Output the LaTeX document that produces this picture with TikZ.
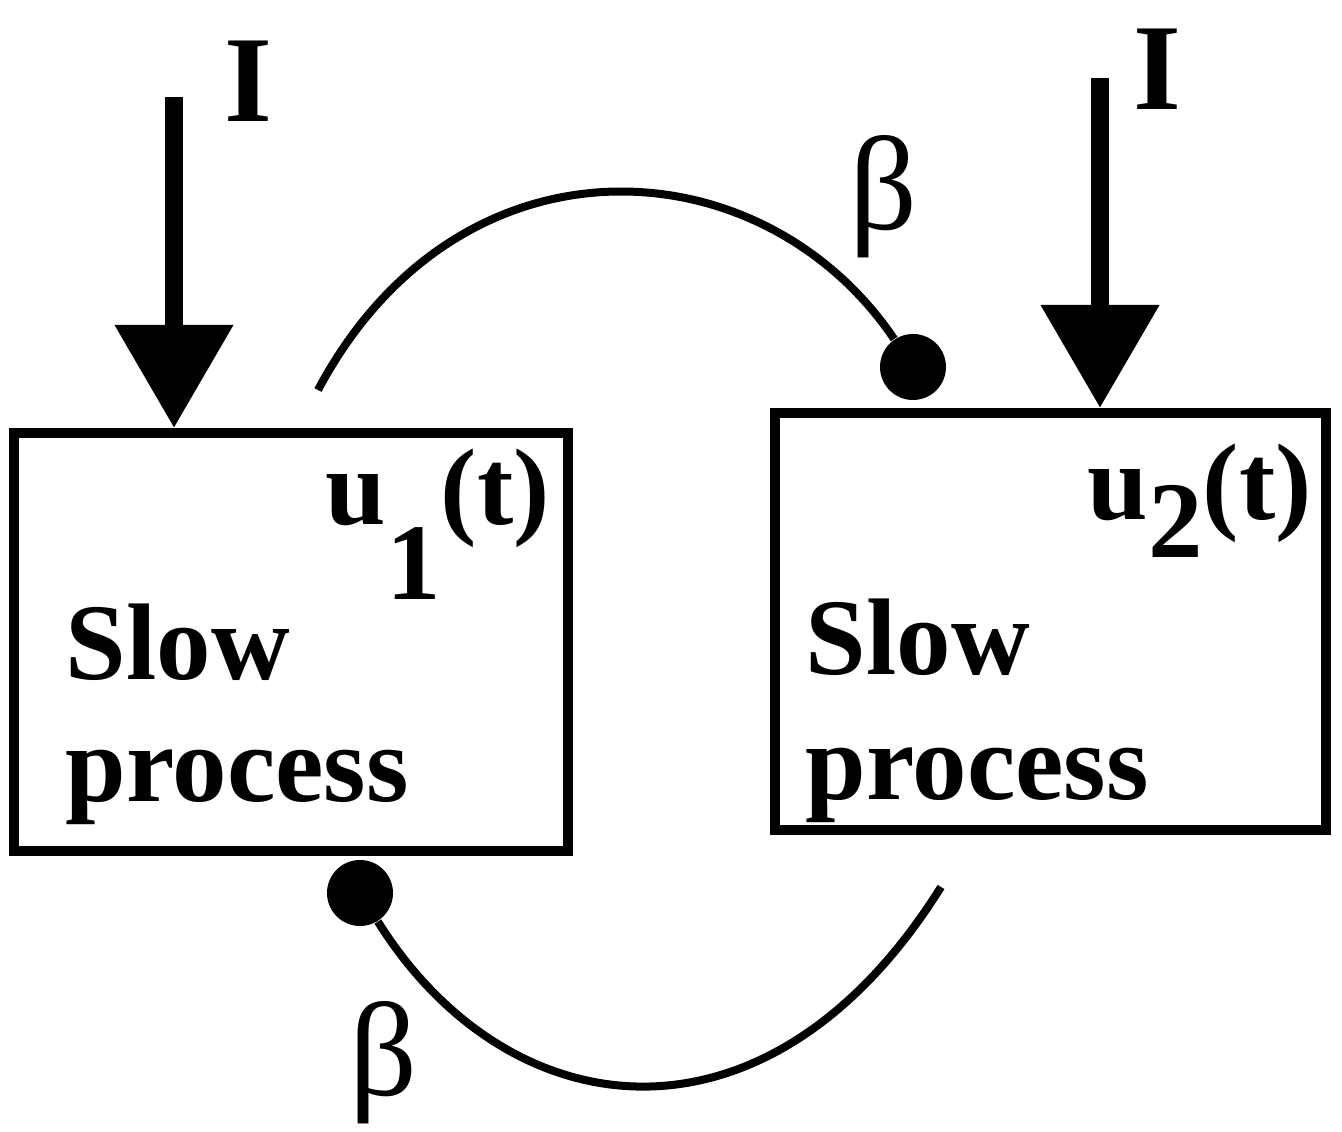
\documentclass[tikz,border=0pt]{standalone}
\usepackage{fontspec}
\setmainfont{Liberation Serif}
\usetikzlibrary{arrows.meta}

\begin{document}
\begin{tikzpicture}[
    box/.style={draw, line width=0.1cm, inner sep=0},
    lbl/.style={font=\fontsize{31}{34}\selectfont\bfseries, anchor=base west, inner sep=0},
    inlbl/.style={font=\fontsize{35}{38}\selectfont\bfseries, anchor=base, inner sep=0},
    cpl/.style={font=\fontsize{38}{40}\selectfont, inner sep=0},
    inp/.style={line width=0.18cm, -{Triangle[length=1.03cm, width=1.14cm]}},
    coup/.style={line width=0.08cm},
    dotn/.style={circle, fill, inner sep=0, minimum size=0.66cm}
]
    \useasboundingbox (0,0) rectangle (13.42,11.32);

    % Left part (first slow process)
    \node[box, minimum width=5.54cm, minimum height=4.18cm] (box1) at (2.91, 4.90) {};
    \node[lbl] (u1) at (3.25, 6.07) {u\raisebox{-0.68em}{1}(t)};
    \node[lbl] (slow1) at (0.65, 4.52) {Slow};
    \node[lbl] (proc1) at (0.65, 3.30) {process};
    \coordinate (in1) at (1.74, 10.35);
    \draw[inp] (in1) -- (in1 |- box1.north);
    \node[inlbl] (I1) at (2.485, 10.10) {I};

    % Right part (second slow process)
    \node[box, minimum width=5.51cm, minimum height=4.17cm] (box2) at (10.505, 5.105) {};
    \node[lbl] (u2) at (10.87, 6.12) {u\raisebox{-0.34em}{2}(t)};
    \node[lbl] (slow2) at (8.05, 4.57) {Slow};
    \node[lbl] (proc2) at (8.05, 3.32) {process};
    \coordinate (in2) at (11.0, 10.54);
    \draw[inp] (in2) -- (in2 |- box2.north);
    \node[inlbl] (I2) at (11.57, 10.22) {I};

    % Coupling between the two
    \coordinate (out1) at (3.18, 7.42);
    \node[dotn] (dot12) at (9.13, 7.65) {};
    \draw[coup] (out1) .. controls +(62:3.0) and +(124:2.7) .. (dot12);
    \node[cpl] (b12) at (8.83, 9.35) {β};

    \coordinate (out2) at (9.41, 2.45);
    \node[dotn] (dot21) at (3.60, 2.39) {};
    \draw[coup] (dot21) .. controls +(-58:2.8) and +(-122:3.27) .. (out2);
    \node[cpl] (b21) at (3.83, 0.69) {β};
\end{tikzpicture}
\end{document}
